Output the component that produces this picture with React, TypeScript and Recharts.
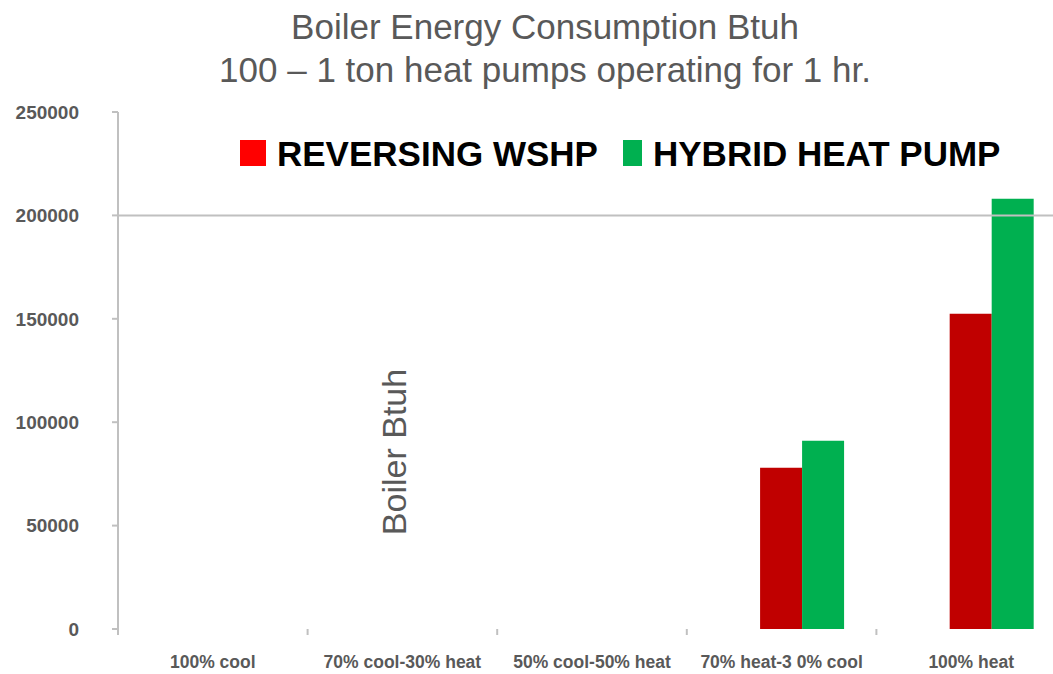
import { BarChart, Bar, XAxis, YAxis, ReferenceLine } from 'recharts'

const CATEGORIES = [
  '100% cool',
  '70% cool-30% heat',
  '50% cool-50% heat',
  '70% heat-3 0% cool',
  '100% heat',
]
// the source chart keeps an empty first series, which pushes the pair right
const BLANK = [0, 0, 0, 0, 0]
const REVERSING_WSHP = [0, 0, 0, 78000, 152500]
const HYBRID_HEAT_PUMP = [0, 0, 0, 91000, 208000]
const Y_TICKS = [0, 50000, 100000, 150000, 200000, 250000]

const TITLE_LINES = ['Boiler Energy Consumption Btuh', '100 – 1 ton heat pumps operating for 1 hr.']

const data = CATEGORIES.map((name, i) => ({
  name,
  blank: BLANK[i],
  reversing: REVERSING_WSHP[i],
  hybrid: HYBRID_HEAT_PUMP[i],
}))

const FONT = '"Liberation Sans", Arial, Helvetica, sans-serif'
const GRAY = '#595959'
const AXIS = '#c0c0c0'

const CHART_W = 1070
const MARGIN_RIGHT = 4
const Y_AXIS_W = 118
const X_TICK_MARGIN = 27
const BAND = (CHART_W - MARGIN_RIGHT - Y_AXIS_W) / CATEGORIES.length

// label under the category plus a small stub on the category's left boundary
function CategoryTick(props: any) {
  const { x, y, payload } = props
  const axisY = y - X_TICK_MARGIN
  return (
    <g>
      <line x1={x - BAND / 2} x2={x - BAND / 2} y1={axisY} y2={axisY + 6} stroke={AXIS} strokeWidth={2} />
      <text
        x={x}
        y={y}
        dy="0.71em"
        textAnchor="middle"
        fill={GRAY}
        fontSize={17.5}
        fontWeight="bold"
        fontFamily={FONT}
      >
        {payload.value}
      </text>
    </g>
  )
}

export default function App() {
  return (
    <div
      style={{
        position: 'absolute',
        left: 0,
        top: 0,
        width: 1053,
        height: 674,
        overflow: 'hidden',
        background: '#fff',
        fontFamily: FONT,
      }}
    >
      {/* Title */}
      <div
        style={{
          position: 'absolute',
          left: 45,
          top: 5,
          width: 1000,
          textAlign: 'center',
          fontSize: 35,
          lineHeight: '43px',
          color: GRAY,
        }}
      >
        {TITLE_LINES.map((line) => (
          <div key={line}>{line}</div>
        ))}
      </div>

      <BarChart
        width={CHART_W}
        height={674}
        data={data}
        margin={{ top: 112, right: MARGIN_RIGHT, left: 0, bottom: 0 }}
        barCategoryGap="16.5%"
        barGap={0}
      >
        <XAxis
          dataKey="name"
          height={45}
          axisLine={false}
          tickLine={false}
          tickSize={0}
          tickMargin={X_TICK_MARGIN}
          interval={0}
          tick={<CategoryTick />}
        />
        <YAxis
          width={Y_AXIS_W}
          domain={[0, 250000]}
          ticks={Y_TICKS}
          axisLine={{ stroke: AXIS, strokeWidth: 2 }}
          tickLine={{ stroke: AXIS, strokeWidth: 2 }}
          tickSize={6}
          tickMargin={33}
          tick={{ fill: GRAY, fontSize: 19, fontWeight: 'bold', fontFamily: FONT }}
        />
        <ReferenceLine y={200000} stroke={AXIS} strokeWidth={2} />
        <Bar dataKey="blank" fill="transparent" legendType="none" isAnimationActive={false} />
        <Bar dataKey="reversing" name="REVERSING WSHP" fill="#c00000" isAnimationActive={false} />
        <Bar dataKey="hybrid" name="HYBRID HEAT PUMP" fill="#00b050" isAnimationActive={false} />
      </BarChart>

      {/* Legend */}
      <div style={{ position: 'absolute', left: 240, top: 140, width: 26, height: 26, background: '#ff0000' }} />
      <div
        style={{
          position: 'absolute',
          left: 277,
          top: 134,
          fontSize: 35,
          lineHeight: '40px',
          fontWeight: 'bold',
          color: '#000',
          whiteSpace: 'nowrap',
        }}
      >
        REVERSING WSHP
      </div>
      <div style={{ position: 'absolute', left: 623, top: 140, width: 19, height: 26, background: '#00b050' }} />
      <div
        style={{
          position: 'absolute',
          left: 653,
          top: 134,
          fontSize: 35,
          lineHeight: '40px',
          fontWeight: 'bold',
          color: '#000',
          whiteSpace: 'nowrap',
        }}
      >
        HYBRID HEAT PUMP
      </div>

      {/* Axis title, drawn inside the plot as in the source */}
      <div
        style={{
          position: 'absolute',
          left: 394,
          top: 452,
          transform: 'translate(-50%, -50%) rotate(-90deg)',
          fontSize: 34,
          color: GRAY,
          whiteSpace: 'nowrap',
        }}
      >
        Boiler Btuh
      </div>
    </div>
  )
}
